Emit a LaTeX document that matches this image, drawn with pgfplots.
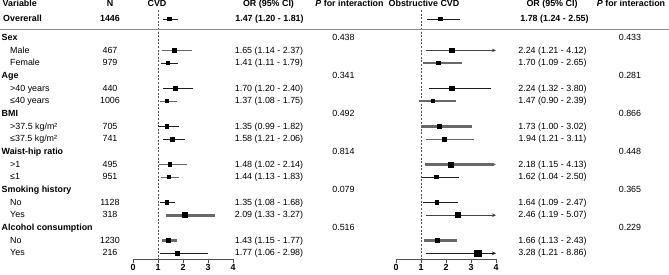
\documentclass[border=0pt]{standalone}
\usepackage{fontspec}
\setmainfont{Liberation Sans}
\usepackage{pgfplots}
\pgfplotsset{compat=1.18}
\usetikzlibrary{arrows.meta}

\definecolor{dk}{HTML}{1E1E1E}
\definecolor{md}{HTML}{444444}
\definecolor{gy}{HTML}{686868}
\definecolor{ax}{HTML}{505050}
\definecolor{sep}{HTML}{8A8A8A}

% #1 row, #2 lower, #3 upper, #4 OR, #5 colour, #6 line width, #7 mark size
\newcommand{\frow}[7]{%
  \addplot[#5, line width=#6] coordinates {(#2,#1) (#3,#1)};
  \addplot[only marks, mark=square*, mark size=#7, line width=0pt, mark options={draw=black, fill=black}] coordinates {(#4,#1)};
}
% upper limit beyond the axis: line ends at 4 with an arrow (#3 kept as the true value)
\newcommand{\frowA}[7]{%
  \addplot[#5, line width=#6, -{Stealth[length=4pt,width=3.6pt]}] coordinates {(#2,#1) (4,#1)};
  \addplot[only marks, mark=square*, mark size=#7, line width=0pt, mark options={draw=black, fill=black}] coordinates {(#4,#1)};
}

\pgfplotsset{forest/.style={
  scale only axis, width=100pt, height=249pt,
  xmin=0, xmax=4, ymin=-2.18, ymax=17.45, y dir=reverse,
  axis x line*=bottom, axis y line=none, ytick=\empty,
  xtick={0,1,2,3,4}, tick align=outside, major tick length=4pt,
  x axis line style={ax, line width=0.9pt},
  xtick style={ax, line width=0.9pt},
  xticklabel style={font=\fontsize{8.9}{10}\selectfont\bfseries, inner sep=1pt},
  /pgf/number format/assume math mode=true,
  clip=false, anchor=south west,
}}

\begin{document}
\begin{tikzpicture}
\useasboundingbox (0pt,0pt) rectangle (669pt,-274pt);

% ---------------- CVD ----------------
\begin{axis}[forest, at={(133pt,-259pt)}]
\addplot[ax, line width=0.7pt, dash pattern=on 2pt off 1.6pt] coordinates {(1,-2.18) (1,17.45)};
\frow{-1.47}{1.20}{1.81}{1.47}{dk}{1pt}{1.8pt}
\frow{1}{1.14}{2.37}{1.65}{gy}{1pt}{2pt}
\frow{2}{1.11}{1.79}{1.41}{dk}{1pt}{1.7pt}
\frow{4}{1.20}{2.40}{1.70}{dk}{1.2pt}{2pt}
\frow{5}{1.08}{1.75}{1.37}{gy}{1pt}{1.7pt}
\frow{7}{0.99}{1.82}{1.35}{dk}{1pt}{1.7pt}
\frow{8}{1.21}{2.06}{1.58}{dk}{1pt}{2pt}
\frow{10}{1.02}{2.14}{1.48}{gy}{1pt}{1.8pt}
\frow{11}{1.13}{1.83}{1.44}{gy}{1.2pt}{1.8pt}
\frow{13}{1.08}{1.68}{1.35}{dk}{1pt}{1.6pt}
\frow{14}{1.33}{3.27}{2.09}{gy}{3pt}{2.5pt}
\frow{16}{1.15}{1.77}{1.43}{gy}{2.5pt}{2pt}
\frow{17}{1.06}{2.98}{1.77}{dk}{1pt}{2pt}
\end{axis}

% ---------------- Obstructive CVD ----------------
\begin{axis}[forest, at={(396pt,-259pt)}]
\addplot[ax, line width=0.7pt, dash pattern=on 2pt off 1.6pt] coordinates {(1,-2.18) (1,17.45)};
\frow{-1.47}{1.24}{2.55}{1.78}{dk}{1pt}{1.8pt}
\frowA{1}{1.21}{4.12}{2.24}{md}{1pt}{2.3pt}
\frow{2}{1.09}{2.65}{1.70}{gy}{2.8pt}{1.9pt}
\frow{4}{1.32}{3.80}{2.24}{dk}{1pt}{2.3pt}
\frow{5}{0.90}{2.39}{1.47}{gy}{2pt}{1.5pt}
\frow{7}{1.00}{3.02}{1.73}{gy}{2.8pt}{2pt}
\frow{8}{1.21}{3.11}{1.94}{gy}{1pt}{2pt}
\frowA{10}{1.15}{4.13}{2.18}{gy}{2.8pt}{2.5pt}
\frow{11}{1.04}{2.50}{1.62}{dk}{1pt}{1.8pt}
\frow{13}{1.09}{2.47}{1.64}{dk}{1pt}{1.8pt}
\frowA{14}{1.19}{5.07}{2.46}{md}{1pt}{2.5pt}
\frow{16}{1.13}{2.43}{1.66}{gy}{2.5pt}{1.8pt}
\frowA{17}{1.21}{8.86}{3.28}{dk}{1pt}{3.3pt}
\end{axis}

\begin{scope}[x=1pt, y=-1pt, every node/.style={font=\fontsize{8.9}{10}\selectfont, inner sep=0pt}]
\draw[sep, line width=0.9pt] (0,29.3) -- (669,29.3);

% headers
\node[anchor=mid west, font=\fontsize{8.9}{10}\selectfont\bfseries] at (2.5,4) {Variable};
\node[anchor=mid, font=\fontsize{8.9}{10}\selectfont\bfseries] at (110,4) {N};
\node[anchor=mid, font=\fontsize{8.9}{10}\selectfont\bfseries] at (157,4) {CVD};
\node[anchor=mid, font=\fontsize{8.9}{10}\selectfont\bfseries] at (268.5,4) {OR (95\% CI)};
\node[anchor=mid, font=\fontsize{8.9}{10}\selectfont\bfseries] at (349.5,4) {\textit{P} for interaction};
\node[anchor=mid, font=\fontsize{8.9}{10}\selectfont\bfseries] at (424,4) {Obstructive CVD};
\node[anchor=mid, font=\fontsize{8.9}{10}\selectfont\bfseries] at (552,4) {OR (95\% CI)};
\node[anchor=mid, font=\fontsize{8.9}{10}\selectfont\bfseries] at (631,4) {\textit{P} for interaction};

% overall
\node[anchor=mid west, font=\fontsize{8.9}{10}\selectfont\bfseries] at (3,19) {Overerall};
\node[anchor=mid, font=\fontsize{8.9}{10}\selectfont\bfseries] at (110,19) {1446};
\node[anchor=mid, font=\fontsize{8.9}{10}\selectfont\bfseries] at (269.5,19) {1.47 (1.20 - 1.81)};
\node[anchor=mid, font=\fontsize{8.9}{10}\selectfont\bfseries] at (554.5,19) {1.78 (1.24 - 2.55)};

% group rows
\foreach \y/\t/\pa/\pb in {37.7/Sex/0.438/0.433, 75.74/Age/0.341/0.281, 113.78/BMI/0.492/0.866, 151.82/Waist-hip ratio/0.814/0.448, 189.86/Smoking history/0.079/0.365, 227.9/Alcohol consumption/0.516/0.229}{
  \node[anchor=mid west, font=\fontsize{8.9}{10}\selectfont\bfseries] at (1.5,\y) {\t};
  \node[anchor=mid] at (343.5,\y) {\pa};
  \node[anchor=mid] at (630,\y) {\pb};
}

% subgroup rows
\foreach \y/\t/\n/\a/\b in {
  50.38/Male/467/1.65 (1.14 - 2.37)/2.24 (1.21 - 4.12),
  63.06/Female/979/1.41 (1.11 - 1.79)/1.70 (1.09 - 2.65),
  88.42/>40 years/440/1.70 (1.20 - 2.40)/2.24 (1.32 - 3.80),
  101.1/≤40 years/1006/1.37 (1.08 - 1.75)/1.47 (0.90 - 2.39),
  126.46/{>37.5 kg/m²}/705/1.35 (0.99 - 1.82)/1.73 (1.00 - 3.02),
  139.14/{≤37.5 kg/m²}/741/1.58 (1.21 - 2.06)/1.94 (1.21 - 3.11),
  164.5/>1/495/1.48 (1.02 - 2.14)/2.18 (1.15 - 4.13),
  177.18/≤1/951/1.44 (1.13 - 1.83)/1.62 (1.04 - 2.50),
  202.54/No/1128/1.35 (1.08 - 1.68)/1.64 (1.09 - 2.47),
  215.22/Yes/318/2.09 (1.33 - 3.27)/2.46 (1.19 - 5.07),
  240.58/No/1230/1.43 (1.15 - 1.77)/1.66 (1.13 - 2.43),
  253.26/Yes/216/1.77 (1.06 - 2.98)/3.28 (1.21 - 8.86)}{
  \node[anchor=mid west] at (10,\y) {\t};
  \node[anchor=mid] at (110,\y) {\n};
  \node[anchor=mid] at (269,\y) {\a};
  \node[anchor=mid] at (552.5,\y) {\b};
}
\end{scope}
\end{tikzpicture}
\end{document}
